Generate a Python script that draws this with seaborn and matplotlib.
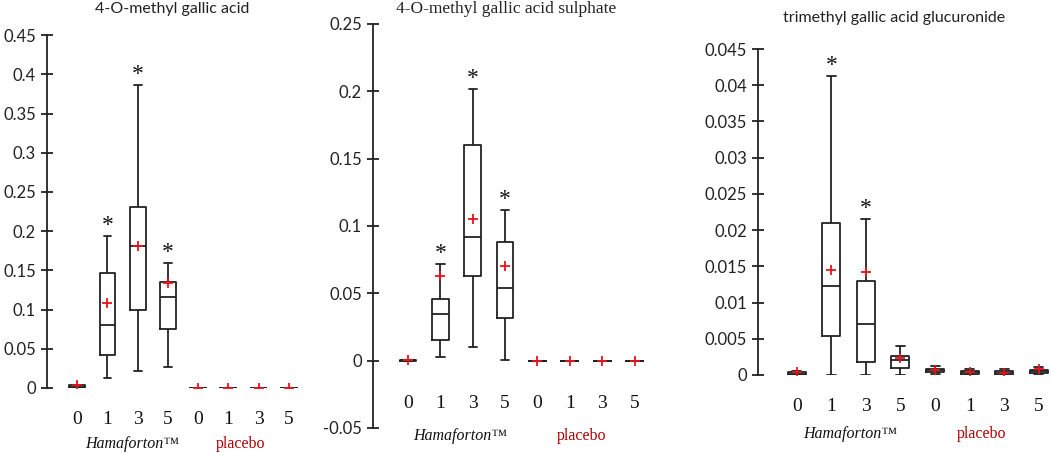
import numpy as np
import pandas as pd
import matplotlib
matplotlib.use("Agg")
import matplotlib.pyplot as plt
import seaborn as sns

# categories (days) for each group
days = ["0", "1", "3", "5", "0", "1", "3", "5"]
groups = ["Hamaforton", "placebo"]

titles = ["4-O-methyl gallic acid",
          "4-O-methyl gallic acid sulphate",
          "trimethyl gallic acid glucuronide"]

# box summaries, order: H0 H1 H3 H5 P0 P1 P3 P5
p1_lo   = [0.0, 0.013, 0.022, 0.027, 0, 0, 0, 0]
p1_q1   = [0.0005, 0.042, 0.099, 0.075, 0, 0, 0, 0]
p1_med  = [0.001, 0.080, 0.181, 0.116, 0, 0, 0, 0]
p1_q3   = [0.0035, 0.147, 0.231, 0.135, 0, 0, 0, 0]
p1_hi   = [0.004, 0.194, 0.386, 0.160, 0, 0, 0, 0]
p1_mean = [0.004, 0.108, 0.181, 0.134, 0, 0, 0, 0]
p1_star = [1, 2, 3]

p2_lo   = [0.0, 0.003, 0.0099, 0.0005, 0, 0, 0, 0]
p2_q1   = [0.0, 0.0154, 0.0625, 0.032, 0, 0, 0, 0]
p2_med  = [0.0003, 0.0347, 0.0915, 0.054, 0, 0, 0, 0]
p2_q3   = [0.0006, 0.0459, 0.160, 0.088, 0, 0, 0, 0]
p2_hi   = [0.0008, 0.0714, 0.202, 0.1116, 0, 0, 0, 0]
p2_mean = [0.0003, 0.0632, 0.105, 0.070, 0, 0, 0, 0]
p2_star = [1, 2, 3]

p3_lo   = [0.0, 0.0, 0.0, 0.0, 0.0001, 0.0, 0.0, 0.0001]
p3_q1   = [0.00005, 0.00538, 0.00184, 0.00097, 0.00037, 0.0002, 0.00005, 0.00023]
p3_med  = [0.0002, 0.01229, 0.00704, 0.00202, 0.0007, 0.00037, 0.0003, 0.0005]
p3_q3   = [0.0004, 0.0210, 0.0130, 0.00262, 0.00087, 0.00055, 0.00055, 0.0007]
p3_hi   = [0.0005, 0.0413, 0.0216, 0.00405, 0.0013, 0.0008, 0.0008, 0.0011]
p3_mean = [0.00037, 0.0145, 0.01426, 0.0023, 0.0007, 0.00037, 0.0003, 0.0008]
p3_star = [1, 2]

panels = [
    (p1_lo, p1_q1, p1_med, p1_q3, p1_hi, p1_mean, p1_star),
    (p2_lo, p2_q1, p2_med, p2_q3, p2_hi, p2_mean, p2_star),
    (p3_lo, p3_q1, p3_med, p3_q3, p3_hi, p3_mean, p3_star),
]

sns.set_style("white")
plt.rcParams["font.family"] = ["Lato", "DejaVu Sans"]

fig = plt.figure(figsize=(10.52, 4.53), dpi=100)

# axes rectangles and limits (in pixel-derived fractions)
rects = [(0.0447, 0.1435, 0.247, 0.779),
         (0.3546, 0.0552, 0.267, 0.892),
         (0.7205, 0.1722, 0.2785, 0.7196)]
ylims = [(0, 0.45), (-0.05, 0.25), (0, 0.045)]
ysteps = [0.05, 0.05, 0.005]
xlims = [(-1.0, 7.6), (-1.08, 7.6), (-1.12, 7.35)]
title_fonts = [["Lato"], ["Liberation Serif"], ["Lato"]]
title_size = [11.5, 12.5, 11.5]
title_pos = [(172, 9), (506, 9), (894, 18)]
lab_off = [32, 43, 32]
grp_off = [56, 75, 59]
grp_x = [(1.8, 5.4), (1.6, 5.37), (1.53, 5.35)]

for k, (lo, q1, med, q3, hi, mean, stars) in enumerate(panels):
    ax = fig.add_axes(rects[k])
    rows = []
    for i in range(len(days)):
        for v in (lo[i], q1[i], med[i], q3[i], hi[i]):
            rows.append({"pos": i, "value": v})
    df = pd.DataFrame(rows)
    sns.boxplot(data=df, x="pos", y="value", ax=ax, whis=np.inf,
                showfliers=False, fill=False, color="#222222",
                linewidth=1.3, width=0.52)
    ax.scatter(range(len(days)), mean, marker="+", color="#e8141c",
               s=60, linewidths=1.3, zorder=6)
    for i in stars:
        ax.annotate("*", xy=(i, hi[i]), xytext=(0, 0), textcoords="offset pixels",
                    ha="center", va="bottom", fontsize=17, color="#111111",
                    family=["Liberation Serif"])
    for i, d in enumerate(days):
        ax.annotate(d, xy=(i, 0), xytext=(0, -lab_off[k]), textcoords="offset pixels",
                    ha="center", va="center", fontsize=14, color="#111111",
                    family=["Liberation Serif"])
    ax.annotate("Hamaforton\u2122", xy=(grp_x[k][0], 0), xytext=(0, -grp_off[k]),
                textcoords="offset pixels", ha="center", va="center",
                fontsize=11.5, style="italic", color="#111111",
                family=["Liberation Serif"], annotation_clip=False)
    ax.annotate("placebo", xy=(grp_x[k][1], 0), xytext=(0, -grp_off[k]),
                textcoords="offset pixels", ha="center", va="center",
                fontsize=11.5, color="#b00000", family=["Liberation Serif"],
                annotation_clip=False)

    ax.set_xlim(*xlims[k])
    ax.set_ylim(*ylims[k])
    ax.set_yticks(np.arange(ylims[k][0], ylims[k][1] + ysteps[k] / 2, ysteps[k]))
    ax.yaxis.set_major_formatter(plt.FuncFormatter(lambda v, p: "%g" % round(v, 4)))
    ax.set_xticks([])
    ax.set_xlabel("")
    ax.set_ylabel("")
    for s in ("top", "right", "bottom"):
        ax.spines[s].set_visible(False)
    ax.spines["left"].set_color("#222222")
    ax.spines["left"].set_linewidth(1.3)
    ax.tick_params(axis="y", direction="inout", length=9, width=1.3,
                   color="#222222", labelsize=12, labelcolor="#222222", left=True)
    ax.patch.set_alpha(0)

    tx, ty = title_pos[k]
    fig.text(tx / 1052, 1 - ty / 453, titles[k], ha="center", va="center",
             fontsize=title_size[k], color="#222222", family=title_fonts[k])

fig.savefig("out.png", dpi=100)
